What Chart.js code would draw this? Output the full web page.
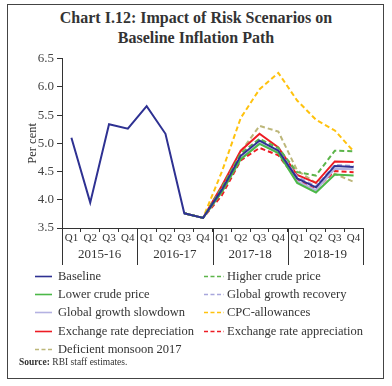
<!DOCTYPE html>
<html>
<head>
<meta charset="utf-8">
<script src="https://cdn.jsdelivr.net/npm/chart.js@4.4.1/dist/chart.umd.min.js"></script>
<style>
  body { margin: 0; background: #fff; font-family: "Liberation Serif", serif; color: #333; }
  #frame { position: absolute; left: 7px; top: 4px; width: 377px; height: 375px; border: 1px solid #444; box-sizing: border-box; }
  #title { position: absolute; left: 0; top: 8px; width: 392px; text-align: center; font-weight: bold; font-size: 16px; line-height: 20px; color: #333; }
  #wrap { position: absolute; left: 8px; top: 48px; width: 375px; height: 222px; }
  #legend { position: absolute; left: 0; top: 267px; width: 392px; font-size: 12.5px; }
  .item { position: absolute; height: 18px; line-height: 18px; white-space: nowrap; }
  .item svg { position: absolute; left: 0; top: 8px; }
  .item span { position: absolute; left: 23px; top: 0; }
  #source { position: absolute; left: 19px; top: 357px; font-size: 9.5px; }
</style>
</head>
<body>
<div id="frame"></div>
<div id="title">Chart I.12: Impact of Risk Scenarios on<br>Baseline Inflation Path</div>
<div id="wrap"><canvas id="c"></canvas></div>
<div id="legend"></div>
<div id="source"><b>Source:</b> RBI staff estimates.</div>
<script>
const quarters = ['Q1','Q2','Q3','Q4','Q1','Q2','Q3','Q4','Q1','Q2','Q3','Q4','Q1','Q2','Q3','Q4'];
const years = ['2015-16', '2016-17', '2017-18', '2018-19'];
const pad = [null, null, null, null, null, null];

const baseline        = [5.10, 3.95, 5.34, 5.26, 5.66, 5.17, 3.76, 3.68, 4.18, 4.78, 5.05, 4.87, 4.38, 4.22, 4.60, 4.58];
const higherCrude     = pad.concat([3.76, 3.68, 4.22, 4.82, 5.08, 4.92, 4.49, 4.43, 4.87, 4.86]);
const lowerCrude      = pad.concat([3.76, 3.68, 4.14, 4.72, 4.99, 4.83, 4.30, 4.13, 4.45, 4.43]);
const growthSlowdown  = pad.concat([3.76, 3.68, 4.15, 4.74, 5.01, 4.84, 4.33, 4.17, 4.55, 4.54]);
const growthRecovery  = pad.concat([3.76, 3.68, 4.20, 4.80, 5.08, 4.89, 4.41, 4.24, 4.62, 4.60]);
const cpcAllowances   = pad.concat([3.76, 3.68, 4.50, 5.45, 5.96, 6.25, 5.76, 5.42, 5.23, 4.86]);
const exDepreciation  = pad.concat([3.76, 3.68, 4.25, 4.87, 5.17, 4.93, 4.44, 4.30, 4.68, 4.67]);
const exAppreciation  = pad.concat([3.76, 3.68, 4.08, 4.70, 4.92, 4.79, 4.35, 4.19, 4.51, 4.49]);
const deficientMonsoon = pad.concat([3.76, 3.68, 4.20, 4.85, 5.31, 5.21, 4.52, 4.30, 4.46, 4.32]);
const yTicks = [3.5, 4.0, 4.5, 5.0, 5.5, 6.0, 6.5];

const DASH = [5, 3];
// legend order: left column then right column, row by row
const series = [
  { label: 'Baseline',                   data: baseline,        color: '#2e3192', dash: [], col: 0, row: 0 },
  { label: 'Higher crude price',         data: higherCrude,     color: '#5cb54a', dash: DASH, col: 1, row: 0 },
  { label: 'Lower crude price',          data: lowerCrude,      color: '#4cb848', dash: [], col: 0, row: 1 },
  { label: 'Global growth recovery',     data: growthRecovery,  color: '#a8a6dc', dash: DASH, col: 1, row: 1 },
  { label: 'Global growth slowdown',     data: growthSlowdown,  color: '#b4b2e2', dash: [], col: 0, row: 2 },
  { label: 'CPC-allowances',             data: cpcAllowances,   color: '#ffc20e', dash: DASH, col: 1, row: 2 },
  { label: 'Exchange rate depreciation', data: exDepreciation,  color: '#ed1c24', dash: [], col: 0, row: 3 },
  { label: 'Exchange rate appreciation', data: exAppreciation,  color: '#ed1c24', dash: DASH, col: 1, row: 3 },
  { label: 'Deficient monsoon 2017',     data: deficientMonsoon, color: '#bdb77a', dash: DASH, col: 0, row: 4 }
];

// html legend in two columns
const legend = document.getElementById('legend');
series.forEach(s => {
  const x = s.col ? 204 : 35;
  const y = s.row * 18.2;
  const da = s.dash.length ? 'stroke-dasharray="4 2.5"' : '';
  legend.innerHTML += `<div class="item" style="left:${x}px;top:${y}px">
    <svg width="20" height="3"><line x1="0" y1="1.5" x2="${s.col ? 20 : 17}" y2="1.5" stroke="${s.color}" stroke-width="1.6" ${da}/></svg>
    <span>${s.label}</span></div>`;
});

// year labels + separators under the quarter ticks
const yearGroups = {
  id: 'yearGroups',
  afterDraw(chart) {
    const x = chart.scales.x, ctx = chart.ctx, a = chart.chartArea;
    const half = (x.getPixelForValue(1) - x.getPixelForValue(0)) / 2;
    ctx.save();
    ctx.strokeStyle = '#333';
    ctx.lineWidth = 1;
    ctx.fillStyle = '#333';
    ctx.font = '13px "Liberation Serif"';
    ctx.textAlign = 'center';
    ctx.textBaseline = 'middle';
    for (let i = 0; i <= years.length; i++) {
      const px = Math.round(x.getPixelForValue(i * 4) - half) + 0.5;
      ctx.beginPath();
      ctx.moveTo(px, a.bottom);
      ctx.lineTo(px, a.bottom + 37);
      ctx.stroke();
    }
    years.forEach((y, i) => {
      const cx = (x.getPixelForValue(i * 4) + x.getPixelForValue(i * 4 + 3)) / 2;
      ctx.fillText(y, cx, a.bottom + 27);
    });
    ctx.restore();
  }
};

new Chart(document.getElementById('c'), {
  type: 'line',
  data: {
    labels: quarters,
    datasets: series.map((s, i) => ({
      label: s.label,
      data: s.data,
      borderColor: s.color,
      borderDash: s.dash,
      borderWidth: 2,
      pointRadius: 0,
      tension: 0,
      fill: false,
      order: s.label === 'Baseline' ? 0 : i
    }))
  },
  options: {
    responsive: true,
    maintainAspectRatio: false,
    animation: false,
    layout: { padding: { left: 0, right: 20, top: 9, bottom: 0 } },
    plugins: { legend: { display: false }, tooltip: { enabled: false } },
    scales: {
      x: {
        offset: true,
        grid: { offset: true, drawOnChartArea: false, tickLength: 4, color: '#333' },
        border: { color: '#333' },
        ticks: { color: '#333', font: { family: 'Liberation Serif', size: 11 }, padding: 0, maxRotation: 0, autoSkip: false },
        afterFit(s) { s.height = 42; }
      },
      y: {
        min: 3.5, max: 6.5,
        afterBuildTicks(s) { s.ticks = yTicks.map(v => ({ value: v })); },
        grid: { drawOnChartArea: false, tickLength: 5, color: '#333' },
        border: { color: '#333' },
        ticks: { color: '#444', font: { family: 'Liberation Serif', size: 13 }, padding: 3, callback: v => v.toFixed(1) },
        title: { display: true, text: 'Per cent', color: '#333', font: { family: 'Liberation Serif', size: 12.5 }, padding: { top: 17, bottom: 0 } },
        afterFit(s) { s.width = 54; }
      }
    }
  },
  plugins: [yearGroups]
});
</script>
</body>
</html>
